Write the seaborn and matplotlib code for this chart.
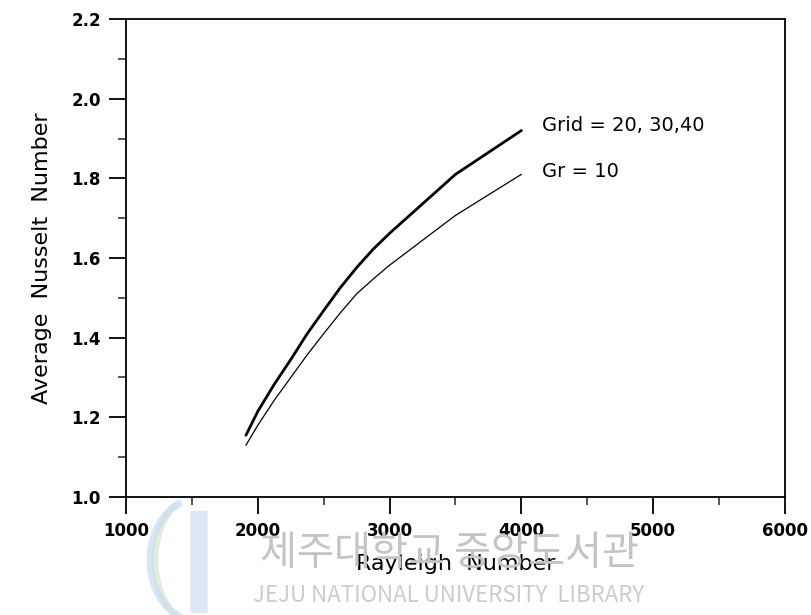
import matplotlib
matplotlib.use("Agg")
import matplotlib.pyplot as plt
import seaborn as sns
import pandas as pd
from matplotlib.ticker import MultipleLocator
from matplotlib.patches import FancyBboxPatch, Arc

# ---- data ----
rayleigh = [1910, 2000, 2125, 2250, 2375, 2500, 2625, 2750, 2875, 3000, 3500, 4000]
nu_grid_fine = [1.155, 1.215, 1.283, 1.345, 1.41, 1.468, 1.525, 1.576, 1.622, 1.662, 1.81, 1.92]  # Grid = 20, 30, 40
nu_grid_10 = [1.13, 1.18, 1.243, 1.30, 1.357, 1.41, 1.462, 1.51, 1.547, 1.582, 1.707, 1.81]       # Gr = 10
x_ticks = [1000, 2000, 3000, 4000, 5000, 6000]
y_ticks = [1.0, 1.2, 1.4, 1.6, 1.8, 2.0, 2.2]
label_fine = "Grid = 20, 30,40"
label_10 = "Gr = 10"

df = pd.DataFrame({
    "Ra": rayleigh * 2,
    "Nu": nu_grid_fine + nu_grid_10,
    "series": [label_fine] * len(rayleigh) + [label_10] * len(rayleigh),
})

sns.set_style("ticks")
plt.rcParams["font.family"] = ["DejaVu Sans"]
plt.rcParams["text.color"] = "black"
plt.rcParams["axes.labelcolor"] = "black"

fig = plt.figure(figsize=(8.12, 6.15), dpi=100)

# faint library logo (watermark) behind everything
logo_bar = FancyBboxPatch((192 / 812, 1 - 612 / 615), 14 / 812, 100 / 615,
                          boxstyle="round,pad=0.002", transform=fig.transFigure,
                          facecolor="#c6d6ee", edgecolor="none", alpha=0.6, zorder=0)
fig.patches.append(logo_bar)
for (cx, w, col) in [(190, 70, "#d2e6cc"), (195, 90, "#cbdcf0")]:
    arc = Arc((cx / 812, 1 - 560 / 615), w / 812, 120 / 615, theta1=100, theta2=260,
              transform=fig.transFigure, color=col, lw=5, alpha=0.7, zorder=0)
    fig.patches.append(arc)

ax = fig.add_axes([126 / 812, 1 - 497 / 615, 659 / 812, 478 / 615])
ax.patch.set_alpha(0)

sns.lineplot(data=df, x="Ra", y="Nu", hue="series", size="series",
             sizes={label_fine: 2.0, label_10: 0.9},
             palette={label_fine: "black", label_10: "black"},
             legend=False, ax=ax, estimator=None, sort=False)

ax.set_xlim(1000, 6000)
ax.set_ylim(1.0, 2.2)
ax.set_xticks(x_ticks)
ax.set_yticks(y_ticks)
ax.xaxis.set_minor_locator(MultipleLocator(500))
ax.yaxis.set_minor_locator(MultipleLocator(0.1))
ax.set_xticklabels([str(v) for v in x_ticks])
ax.set_yticklabels([f"{v:.1f}" for v in y_ticks])

for s in ax.spines.values():
    s.set_linewidth(1.3)
    s.set_color("black")
    s.set_visible(True)

ax.tick_params(axis="both", which="major", direction="out", length=12, width=1.3,
               labelsize=12, pad=6, colors="black")
ax.tick_params(axis="both", which="minor", direction="out", length=6, width=1.1)
ax.tick_params(top=False, right=False, which="both")
for lbl in ax.get_xticklabels() + ax.get_yticklabels():
    lbl.set_fontweight("bold")

ax.set_xlabel("Rayleigh  Number", fontsize=16, labelpad=10, color="black")
ax.set_ylabel("Average  Nusselt  Number", fontsize=16, labelpad=14, color="black")

ax.text(4160, 1.933, label_fine, fontsize=14, va="center", ha="left", color="black")
ax.text(4160, 1.816, label_10, fontsize=14, va="center", ha="left", color="black")

# watermark text
fig.text(0.553, 1 - 553 / 615, "제주대학교 중앙도서관", fontsize=29, color="#c4c4c4",
         ha="center", va="center", family=["Noto Sans CJK KR", "DejaVu Sans"], zorder=0)
fig.text(0.553, 1 - 596 / 615, "JEJU NATIONAL UNIVERSITY  LIBRARY", fontsize=16, color="#cccccc",
         ha="center", va="center", family=["Noto Sans CJK KR", "DejaVu Sans"], zorder=0)

fig.savefig("out.png", dpi=100)
